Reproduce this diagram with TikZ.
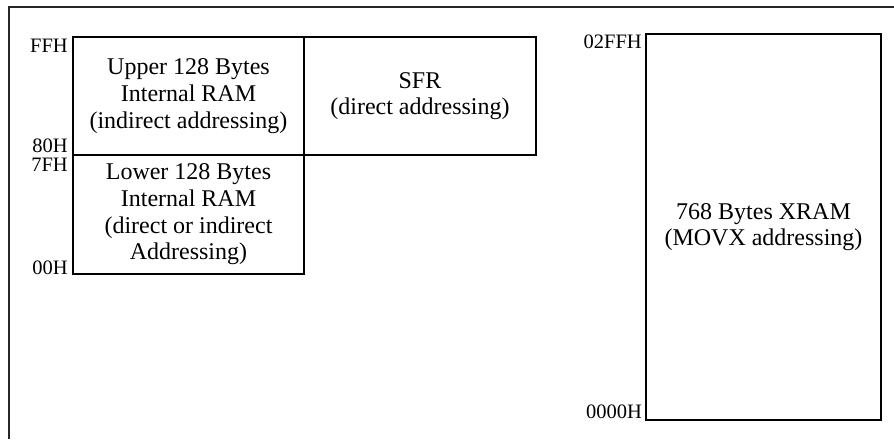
\documentclass[tikz,border=0pt]{standalone}
\usepackage{fontspec}
\setmainfont{Liberation Serif}
\begin{document}
\begin{tikzpicture}[x=1pt,y=-1pt,
  membox/.style={draw, line width=1.3pt, inner sep=0pt, align=center,
    font=\fontsize{24}{26.7}\selectfont},
  addr/.style={inner sep=0pt, font=\fontsize{20.5}{21}\selectfont},
  frame/.style={line width=1.2pt, draw=black!85}]
\useasboundingbox[fill=white] (0,0) rectangle (894,439);
\coordinate (fa) at (9,439);
\coordinate (fb) at (9,7);
\coordinate (fc) at (894,7);
\draw[frame] (fa) -- (fb) -- (fc);
\node[membox, minimum width=231pt, minimum height=118pt] (upper) at (188.5,96)
  {Upper 128 Bytes\\Internal RAM\\(indirect addressing)};
\node[membox, minimum width=232pt, minimum height=118pt] (sfr) at (420,96)
  {SFR\\(direct addressing)};
\node[membox, minimum width=231pt, minimum height=119pt] (lower) at (188.5,214.5)
  {Lower 128 Bytes\\Internal RAM\\(direct or indirect\\Addressing)};
\node[membox, minimum width=235pt, minimum height=386pt] (xram) at (763.5,227)
  {768 Bytes XRAM\\(MOVX addressing)};
\node[addr, anchor=base east] (lffh) at (68,52) {FFH};
\node[addr, anchor=base east] (l80h) at (68,152) {80H};
\node[addr, anchor=base east] (l7fh) at (68,171) {7FH};
\node[addr, anchor=base east] (l00h) at (68,274) {00H};
\node[addr, anchor=base east] (l02ffh) at (642,48) {02FFH};
\node[addr, anchor=base east] (l0000h) at (642,418) {0000H};
\end{tikzpicture}
\end{document}
